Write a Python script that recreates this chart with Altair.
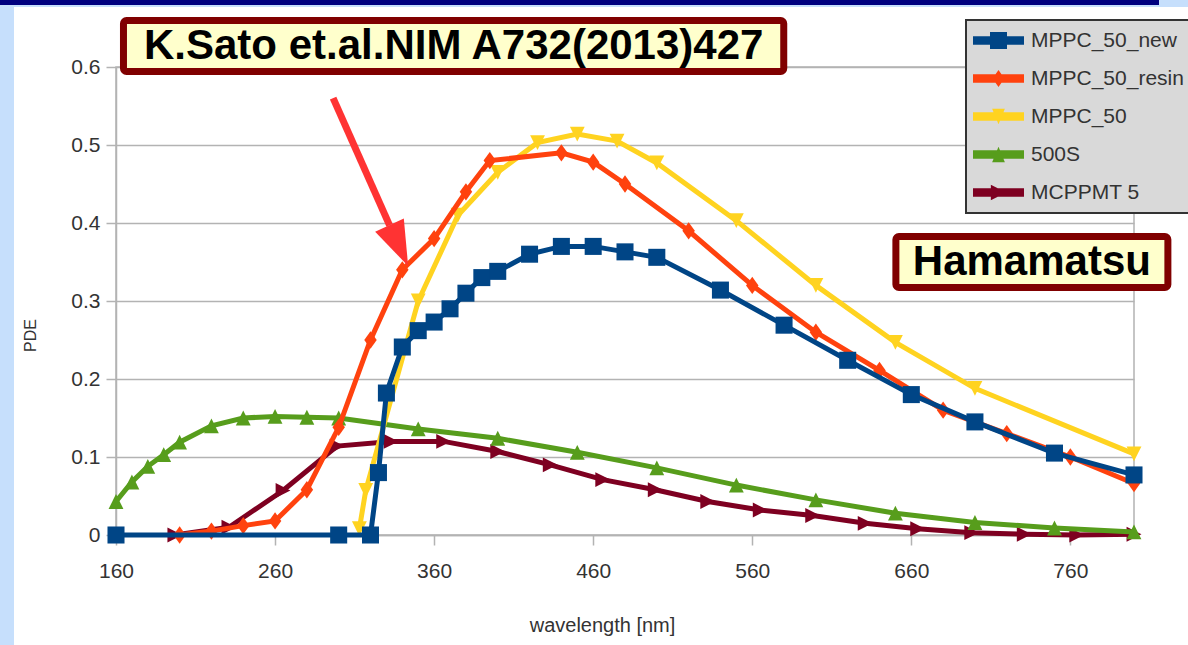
import altair as alt
import pandas as pd

# ---------------- data ----------------
series = ["MPPC_50_new", "MPPC_50_resin", "MPPC_50", "500S", "MCPPMT 5"]
colors = ["#004586", "#ff420e", "#ffd320", "#579d1c", "#7e0021"]

wl_new = [160, 300, 320, 325, 330, 340, 350, 360, 370, 380, 390, 400, 420, 440,
          460, 480, 500, 540, 580, 620, 660, 700, 750, 800]
pde_new = [0, 0, 0, 0.08, 0.182, 0.241, 0.262, 0.273, 0.29, 0.31, 0.33, 0.338, 0.36,
           0.37, 0.37, 0.363, 0.356, 0.314, 0.269, 0.224, 0.18, 0.145, 0.105, 0.077]

wl_resin = [200, 220, 240, 260, 280, 300, 320, 340, 360, 380, 395, 440, 460, 480,
            520, 560, 600, 640, 680, 720, 760, 800]
pde_resin = [0, 0.005, 0.012, 0.018, 0.058, 0.138, 0.25, 0.34, 0.38, 0.44, 0.48, 0.49,
             0.478, 0.45, 0.39, 0.32, 0.26, 0.211, 0.16, 0.13, 0.1, 0.066]

wl_50 = [313, 317, 350, 375, 400, 425, 450, 475, 500, 550, 600, 650, 700, 800]
pde_50 = [0.008, 0.057, 0.30, 0.41, 0.465, 0.503, 0.514, 0.505, 0.477, 0.403, 0.32,
          0.247, 0.188, 0.104]

wl_500s = [160, 170, 180, 190, 200, 220, 240, 260, 280, 300, 350, 400, 450, 500, 550,
           600, 650, 700, 750, 800]
pde_500s = [0.043, 0.068, 0.088, 0.103, 0.119, 0.14, 0.15, 0.152, 0.151, 0.15, 0.136,
            0.124, 0.106, 0.086, 0.064, 0.045, 0.028, 0.016, 0.009, 0.004]

wl_mcp = [197, 231, 265, 299, 333, 366, 400, 433, 466, 499, 532, 565, 598, 631, 664,
          698, 731, 764, 800]
pde_mcp = [0, 0.01, 0.057, 0.114, 0.12, 0.12, 0.107, 0.09, 0.071, 0.058, 0.043, 0.032,
           0.025, 0.015, 0.008, 0.003, 0.001, 0, 0.001]

x_ticks = [160, 260, 360, 460, 560, 660, 760]
y_ticks = [0, 0.1, 0.2, 0.3, 0.4, 0.5, 0.6]

# annotations (in data coordinates)
box_labels = ["K.Sato et.al.NIM A732(2013)427", "Hamamatsu"]
box_x1 = [164.7, 650.3]
box_x2 = [579.8, 821.3]
box_y1 = [0.5942, 0.3173]
box_y2 = [0.6596, 0.3827]
box_tx = [372.3, 735.8]
box_ty = [0.627, 0.350]

arrow_start = (296.5, 0.560)
arrow_base = (332.0, 0.397)
arrow_head = (337.8, 0.371)

# ---------------- helpers ----------------
FONT = "Liberation Sans, Arial, sans-serif"

xs = alt.Scale(domain=[160, 800], nice=False, zero=False)
ys = alt.Scale(domain=[0, 0.6], nice=False, zero=False)
cscale = alt.Scale(domain=series, range=colors)

xaxis = alt.Axis(values=x_ticks, title="wavelength [nm]", grid=False, labelFlush=False,
                 labelFont=FONT, labelFontSize=21, labelColor="#333333",
                 labelPadding=15, tickSize=10, tickWidth=1.5, tickColor="#b3b3b3",
                 domainColor="#b3b3b3", domainWidth=1.5,
                 titleFont=FONT, titleFontSize=20, titleFontWeight="normal",
                 titleColor="#333333", titleX=486, titleY=90, titleBaseline="middle")
yaxis = alt.Axis(values=y_ticks, format=".1~f", title="PDE", grid=True, labelFlush=False,
                 gridColor="#b3b3b3", gridWidth=1.5,
                 labelFont=FONT, labelFontSize=21, labelColor="#333333",
                 labelPadding=6, tickSize=10, tickWidth=1.5, tickColor="#b3b3b3",
                 domainColor="#b3b3b3", domainWidth=1.5,
                 titleFont=FONT, titleFontSize=16, titleFontWeight="normal",
                 titleColor="#333333", titleX=-86, titleY=268, titleAngle=270,
                 titleBaseline="middle", titleAlign="center")


def X(f):
    return alt.X(f, type="quantitative", scale=xs, axis=xaxis)


def Y(f):
    return alt.Y(f, type="quantitative", scale=ys, axis=yaxis)


series_data = {
    "MPPC_50_new": (wl_new, pde_new),
    "MPPC_50_resin": (wl_resin, pde_resin),
    "MPPC_50": (wl_50, pde_50),
    "500S": (wl_500s, pde_500s),
    "MCPPMT 5": (wl_mcp, pde_mcp),
}

marker_paths = {
    "MPPC_50_new": "M-1,-1L1,-1L1,1L-1,1Z",
    "MPPC_50_resin": "M0,-1L0.72,0L0,1L-0.72,0Z",
    "MPPC_50": "M-1,-1L1,-1L0,1Z",
    "500S": "M0,-1L1,1L-1,1Z",
    "MCPPMT 5": "M-1,-1L1,0L-1,1Z",
}
marker_sizes = {"MPPC_50_new": 290, "MPPC_50_resin": 300, "MPPC_50": 220,
                "500S": 220, "MCPPMT 5": 220}

# legend symbols: line segment + marker (unit = 8.5 px)
leg_line = "M-3,-0.5L3,-0.5L3,0.5L-3,0.5Z"
leg_paths = [
    leg_line + "M-1,-1L1,-1L1,1L-1,1Z",
    leg_line + "M0,-1L0.7,0L0,1L-0.7,0Z",
    leg_line + "M-0.75,-0.9L0.75,-0.9L0,0.9Z",
    leg_line + "M0,-0.9L0.75,0.9L-0.75,0.9Z",
    leg_line + "M-0.9,-0.9L0.9,0L-0.9,0.9Z",
]

legend = alt.Legend(orient="none", legendX=850, legendY=-47, title=None,
                    fillColor="#d9d9d9", strokeColor="#333333", padding=10,
                    symbolSize=289, symbolStrokeWidth=0, symbolOffset=12,
                    labelFont=FONT, labelFontSize=21, labelColor="#333333",
                    labelOffset=22, rowPadding=16, labelLimit=300)

# ---------------- layers ----------------
layers = []

# page decorations (outside the plot area)
deco = pd.DataFrame({"k": [0]})
layers.append(alt.Chart(deco).mark_rect(color="#c6dffc").encode(
    x=alt.value(-116), x2=alt.value(-102), y=alt.value(-67), y2=alt.value(578)))
layers.append(alt.Chart(deco).mark_rect(color="#c6dffc").encode(
    x=alt.value(-116), x2=alt.value(1072), y=alt.value(-67), y2=alt.value(-60)))
layers.append(alt.Chart(deco).mark_rect(color="#00007f").encode(
    x=alt.value(-116), x2=alt.value(1043), y=alt.value(-67), y2=alt.value(-62)))

draw_order = ["MCPPMT 5", "500S", "MPPC_50", "MPPC_50_resin", "MPPC_50_new"]
for s in draw_order:
    wl, pde = series_data[s]
    df = pd.DataFrame({"series": s, "wl": wl, "pde": pde})
    col = colors[series.index(s)]
    layers.append(alt.Chart(df).mark_line(strokeWidth=5, color=col).encode(
        x=X("wl"), y=Y("pde")))
    layers.append(alt.Chart(df).mark_point(
        shape=marker_paths[s], size=marker_sizes[s], filled=True, opacity=1,
        color=col, strokeWidth=0).encode(x=X("wl"), y=Y("pde")))

# legend carrier (points lie outside the x domain and are clipped away)
leg_df = pd.DataFrame({"series": series, "wl": [1000] * 5, "pde": [0.3] * 5})
layers.append(alt.Chart(leg_df).mark_point(filled=True, opacity=1, clip=True,
                                           strokeWidth=0).encode(
    x=X("wl"), y=Y("pde"),
    color=alt.Color("series:N", scale=cscale, legend=legend),
    shape=alt.Shape("series:N", scale=alt.Scale(domain=series, range=leg_paths),
                    legend=legend)))

# annotation boxes
box_df = pd.DataFrame({"label": box_labels, "x1": box_x1, "x2": box_x2,
                       "y1": box_y1, "y2": box_y2, "tx": box_tx, "ty": box_ty})
layers.append(alt.Chart(box_df).mark_rect(fill="#ffffcc", stroke="#800000",
                                          strokeWidth=7, cornerRadius=3).encode(
    x=X("x1"), x2=alt.X2("x2"), y=Y("y1"), y2=alt.Y2("y2")))
layers.append(alt.Chart(box_df).mark_text(font=FONT, fontSize=42,
                                          fontWeight="bold", color="#000000",
                                          baseline="middle", align="center").encode(
    x=X("tx"), y=Y("ty"), text="label:N"))

# red arrow
arr_df = pd.DataFrame({"xa": [arrow_start[0]], "ya": [arrow_start[1]],
                       "xb": [arrow_base[0]], "yb": [arrow_base[1]],
                       "xh": [arrow_head[0]], "yh": [arrow_head[1]]})
layers.append(alt.Chart(arr_df).mark_rule(strokeWidth=7, color="#ff3333").encode(
    x=X("xa"), y=Y("ya"), x2=alt.X2("xb"), y2=alt.Y2("yb")))
layers.append(alt.Chart(arr_df).mark_point(
    shape="M-0.7,-1L0.7,-1L0,1Z", size=2025, angle=335.5, filled=True, opacity=1,
    color="#ff3333", strokeWidth=0).encode(x=X("xh"), y=Y("yh")))

chart = alt.layer(*layers).properties(
    width=1018, height=468,
    autosize=alt.AutoSizeParams(type="none"),
    padding={"left": 116, "top": 67, "right": 54, "bottom": 110},
    background="white",
).configure_view(stroke="#b3b3b3", strokeWidth=1.5).configure_legend(strokeWidth=2)

chart.save("out.html", embed_options={"renderer": "svg", "actions": False})
